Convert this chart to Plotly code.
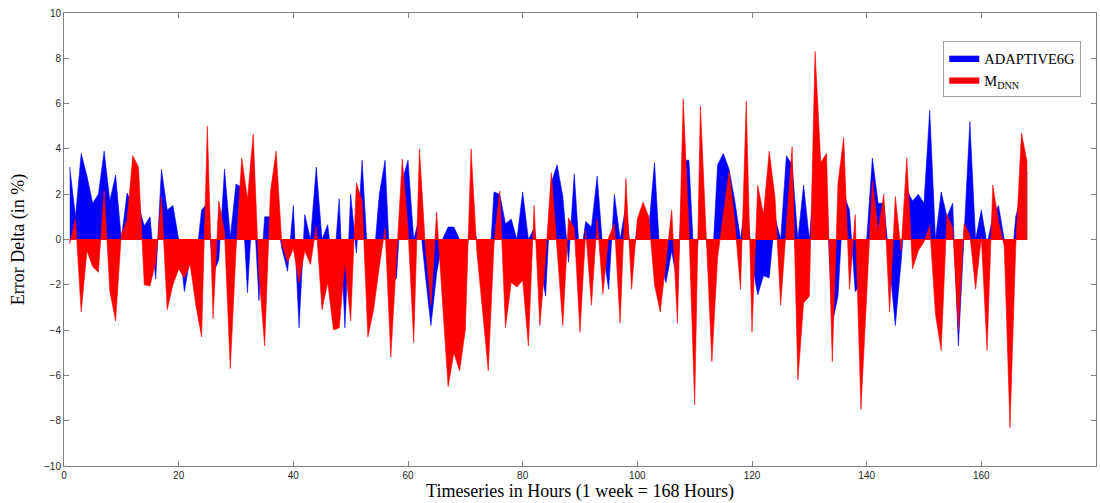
import plotly.graph_objects as go

hours = list(range(1, 169))

adaptive6g = [
    3.2, 1.0, 3.8, 2.8, 1.6, 2.0, 3.9, 1.7, 2.85, 0.0,
    2.05, 1.5, 1.5, 0.6, 1.0, -1.75, 3.1, 1.3, 1.5, 0.0,
    -2.3, -0.8, -1.0, 1.3, 1.6, -1.5, -0.9, 3.1, 0.1, 2.45,
    2.3, -2.35, 2.0, -2.7, 1.0, 1.0, 1.2, -0.4, -1.4, 1.5,
    -3.9, 1.1, 0.0, 3.2, 0.0, 0.65, -1.5, 1.8, -3.9, 2.0,
    -0.6, 3.5, -1.0, -1.0, 2.0, 3.5, -2.0, -1.7, 2.6, 3.5,
    0.0, 1.0, -1.5, -3.8, -1.5, 0.0, 0.55, 0.55, 0.0, -1.0,
    1.0, 0.0, -1.0, -2.0, 2.1, 2.0, 0.7, 0.9, 0.0, 2.1,
    0.0, 0.5, -1.0, -2.5, 2.5, 3.3, 1.9, -1.0, 2.9, -1.0,
    0.8, 0.55, 2.8, -0.5, -2.2, 2.0, 0.0, 1.5, -1.0, 0.5,
    1.0, 0.5, 3.4, -1.0, -1.9, -0.5, -2.0, 3.5, 3.5, -1.5,
    1.0, 0.0, -1.5, 3.3, 3.8, 3.1, 1.7, 0.0, 2.0, -1.0,
    -2.45, -1.6, -1.7, 1.0, 0.0, 3.7, 3.3, 0.0, 2.4, 0.0,
    3.0, 2.0, 2.0, -3.7, -2.5, 2.0, 1.3, -2.3, -2.0, 0.0,
    3.6, 1.6, 1.6, -1.0, -3.8, -1.0, 2.2, 1.7, 2.0, 1.6,
    5.7, 0.0, 2.1, 1.0, 1.6, -4.7, 0.5, 5.2, 0.0, 1.3,
    -0.2, 1.0, 1.5, 0.0, -2.0, 1.0, 2.0, 3.0,
]

m_dnn = [
    -0.2, 0.9, -3.2, -0.5, -1.2, -1.45, 2.15, -2.3, -3.6, 0.25,
    0.85, 3.7, 3.2, -2.0, -2.05, -1.0, 1.9, -3.1, -2.0, -1.3,
    -1.7, -1.1, -2.9, -4.3, 5.0, -3.5, 1.7, 0.3, -5.7, -0.5,
    3.6, 1.8, 4.65, -1.5, -4.7, 2.1, 3.9, -0.2, -1.0, -0.4,
    -1.9, -0.5, -1.1, 0.6, -3.1, -1.9, -4.0, -3.9, -1.0, -3.6,
    2.5, 1.7, -4.3, -3.1, -1.2, 0.5, -5.2, -1.0, 3.55, 0.5,
    -4.55, 4.0, -0.2, -2.9, 1.2, -2.7, -6.5, -5.0, -5.8, -4.0,
    4.0, -0.5, -3.1, -5.8, -0.2, 2.15, -3.9, -1.9, -2.1, -1.8,
    -4.7, 1.5, -3.8, -0.8, 2.95, -0.5, -3.8, 0.95, 0.5, -4.1,
    0.4, -2.9, 0.9, -2.4, 0.1, 0.7, -3.7, 2.7, -2.2, 0.9,
    1.65, 1.0, -2.0, -3.2, -1.0, 1.3, -3.7, 6.2, 0.5, -7.3,
    5.9, 0.0, -5.4, -0.8, 1.2, 3.0, 0.8, -2.2, 6.1, -4.1,
    2.4, 1.1, 3.9, 1.9, -2.9, 0.5, 4.1, -6.2, -2.8, -2.5,
    8.3, 3.4, 3.8, -5.4, 2.5, 4.5, -2.2, 1.1, -7.5, -2.5,
    2.6, 0.4, 2.0, -3.2, 1.9, -0.5, 3.6, -1.3, -0.5, -0.1,
    0.6, -3.3, -4.9, 1.1, 0.5, -4.0, 0.7, 0.2, -2.2, 0.1,
    -4.9, 2.4, 0.8, -0.3, -8.3, -0.3, 4.7, 3.4,
]

x_ticks = list(range(0, 181, 20))
y_ticks = list(range(-10, 11, 2))

SERIF = "Liberation Serif"

fig = go.Figure()
fig.add_trace(go.Scatter(
    x=hours, y=adaptive6g, mode="lines", fill="tozeroy",
    line=dict(color="#0000ff", width=0.6), fillcolor="#0000ff",
    name="ADAPTIVE6G",
))
fig.add_trace(go.Scatter(
    x=hours, y=m_dnn, mode="lines", fill="tozeroy",
    line=dict(color="#ff0000", width=0.6), fillcolor="#ff0000",
    name="M<sub>DNN</sub>",
))
fig.add_trace(go.Scatter(
    x=[hours[0], hours[-1]], y=[0, 0], mode="lines",
    line=dict(color="#ff0000", width=1), showlegend=False, hoverinfo="skip",
))

axis_common = dict(
    showgrid=False, zeroline=False, showline=True, mirror="ticks",
    linecolor="#808080", linewidth=1, ticks="inside", ticklen=5,
    tickcolor="#808080", tickfont=dict(family="Liberation Sans", size=10, color="#262626"),
)

fig.update_layout(
    width=1100, height=503,
    margin=dict(l=64, r=4, t=13, b=37),
    paper_bgcolor="white", plot_bgcolor="white",
    xaxis=dict(range=[0, 180], tickvals=x_ticks,
               title=dict(text="Timeseries in Hours (1 week = 168 Hours)",
                          font=dict(family=SERIF, size=18, color="#000000"),
                          standoff=2),
               **axis_common),
    yaxis=dict(range=[-10, 10], tickvals=y_ticks,
               title=dict(text="Error Delta (in %)",
                          font=dict(family=SERIF, size=18, color="#000000"),
                          standoff=14),
               **axis_common),
    legend=dict(x=0.852, y=0.938, xanchor="left", yanchor="top",
                bgcolor="white", bordercolor="#a0a0a0", borderwidth=1,
                font=dict(family=SERIF, size=14.5, color="#000000"),
                tracegroupgap=0, itemwidth=30),
    showlegend=True,
)

fig.write_html("out.html")
